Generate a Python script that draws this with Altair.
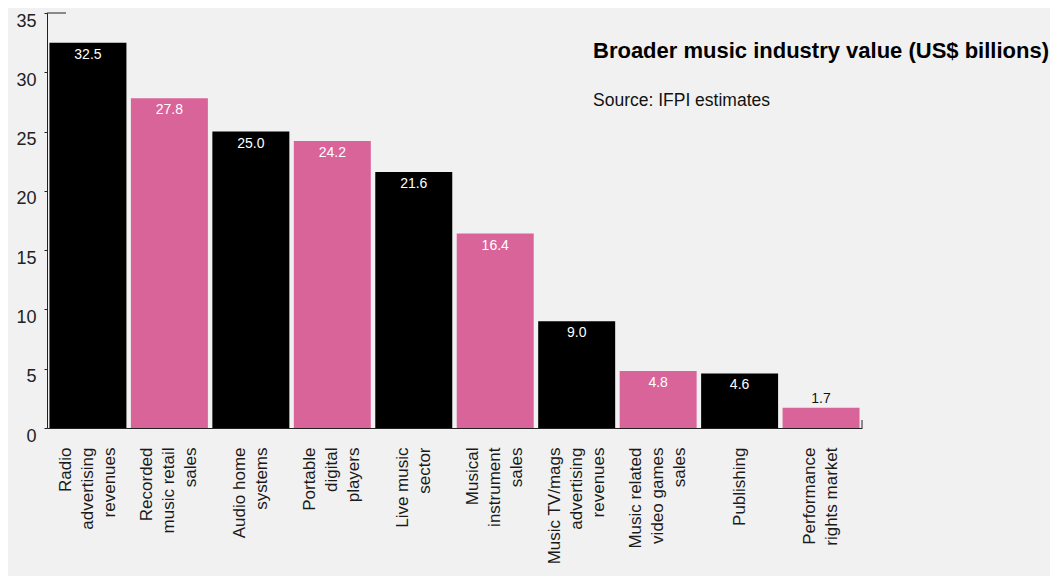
import altair as alt
import pandas as pd

categories = [
    "Radio advertising revenues",
    "Recorded music retail sales",
    "Audio home systems",
    "Portable digital players",
    "Live music sector",
    "Musical instrument sales",
    "Music TV/mags advertising revenues",
    "Music related video games sales",
    "Publishing",
    "Performance rights market",
]
label_lines = [
    "Radio|advertising|revenues",
    "Recorded|music retail|sales",
    "Audio home|systems",
    "Portable|digital|players",
    "Live music|sector",
    "Musical|instrument|sales",
    "Music TV/mags|advertising|revenues",
    "Music related|video games|sales",
    "Publishing",
    "Performance|rights market",
]
values = [32.5, 27.8, 25.0, 24.2, 21.6, 16.4, 9.0, 4.8, 4.6, 1.7]
groups = ["black", "pink", "black", "pink", "black", "pink", "black", "pink", "black", "pink"]
y_ticks = [0, 5, 10, 15, 20, 25, 30, 35]

df = pd.DataFrame({
    "category": categories,
    "label": label_lines,
    "value": values,
    "group": groups,
})
df["value_text"] = df["value"].map(lambda v: f"{v:.1f}")

FONT = "Liberation Sans"
LH = 22

x_enc = alt.X(
    "label:N",
    sort=None,
    scale=alt.Scale(paddingInner=0.055, paddingOuter=0.03),
    axis=alt.Axis(
        title=None,
        labelAngle=-90,
        labelExpr="split(datum.value, '|')",
        labelFontSize=17,
        labelFont=FONT,
        labelColor="#1a1a1a",
        labelLineHeight=LH,
        labelPadding=19,
        labelOffset={
            "condition": [
                {"test": "length(split(datum.value, '|')) == 3", "value": -LH},
                {"test": "length(split(datum.value, '|')) == 2", "value": -LH / 2},
            ],
            "value": 0,
        },
        ticks=False,
        domainColor="#222222",
        domainWidth=1.2,
        labelLimit=400,
    ),
)
y_scale = alt.Scale(domain=[0, 35], nice=False)

base = alt.Chart(df)

bars = base.mark_bar().encode(
    x=x_enc,
    y=alt.Y(
        "value:Q",
        scale=y_scale,
        axis=alt.Axis(
            title=None,
            values=y_ticks,
            grid=False,
            tickSize=3,
            tickColor="#222222",
            domainColor="#222222",
            labelFontSize=18,
            labelFont=FONT,
            labelColor="#222222",
            labelOffset=8,
            labelPadding=8,
        ),
    ),
    color=alt.Color(
        "group:N",
        scale=alt.Scale(domain=["black", "pink"], range=["#000000", "#d9649a"]),
        legend=None,
    ),
)

inside = base.transform_filter("datum.value >= 3").mark_text(
    baseline="middle", dy=12, fontSize=14, font=FONT, color="#ffffff"
).encode(x=alt.X("label:N", sort=None), y="value:Q", text="value_text:N")

above = base.transform_filter("datum.value < 3").mark_text(
    baseline="middle", dy=-9, fontSize=14, font=FONT, color="#111111"
).encode(x=alt.X("label:N", sort=None), y="value:Q", text="value_text:N")

top_tick = alt.Chart(pd.DataFrame({"v": [35]})).mark_rule(
    color="#222222", strokeWidth=1
).encode(y=alt.Y("v:Q", scale=y_scale), x=alt.value(0), x2=alt.value(19))

right_tick = alt.Chart(pd.DataFrame({"v": [0]})).mark_rule(
    color="#222222", strokeWidth=1
).encode(y=alt.Y("v:Q", scale=y_scale), y2=alt.value(407), x=alt.value(815))

title_df = pd.DataFrame({"t": ["Broader music industry value (US$ billions)"]})
title = alt.Chart(title_df).mark_text(
    align="left", baseline="middle", fontSize=22, fontWeight="bold", font=FONT, color="#000000"
).encode(text="t:N", x=alt.value(546), y=alt.value(38))

source_df = pd.DataFrame({"t": ["Source: IFPI estimates"]})
source = alt.Chart(source_df).mark_text(
    align="left", baseline="middle", fontSize=17.5, font=FONT, color="#111111"
).encode(text="t:N", x=alt.value(546), y=alt.value(88))

chart = alt.layer(bars, inside, above, top_tick, right_tick, title, source).properties(
    width=815,
    height=415,
    autosize=alt.AutoSizeParams(type="none"),
    padding={"left": 39, "top": 5, "right": 188, "bottom": 148},
    background="#f1f1f1",
).configure_view(stroke=None)

chart.save("out.html", embed_options={"renderer": "svg", "actions": False})
